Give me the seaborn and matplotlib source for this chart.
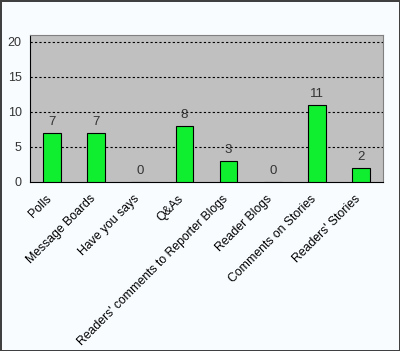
import matplotlib
matplotlib.use('Agg')
import matplotlib.pyplot as plt
import matplotlib.transforms as mtransforms
import seaborn as sns
import pandas as pd

categories = ['Polls', 'Message Boards', 'Have you says', 'Q&As',
              "Readers' comments to Reporter Blogs", 'Reader Blogs',
              'Comments on Stories', "Readers' Stories"]
counts = [7, 7, 0, 8, 3, 0, 11, 2]
yticks = [0, 5, 10, 15, 20]

df = pd.DataFrame({'category': categories, 'count': counts})

sns.set_style('white')
plt.rcParams['font.family'] = ['Liberation Sans', 'DejaVu Sans']

fig = plt.figure(figsize=(4.0, 3.51), dpi=100, facecolor='#f8fcff',
                 edgecolor='#404040', linewidth=2)
ax = fig.add_axes([30 / 400, 1 - 181.5 / 351, 353 / 400, 146.5 / 351])
ax.set_facecolor('#c0c0c0')

sns.barplot(data=df, x='category', y='count', color='#10ee30', saturation=1,
            edgecolor='black', linewidth=0.8, width=0.4, ax=ax, zorder=3)

ax.set_ylim(0, 21)
ax.set_xlim(-0.5, len(categories) - 0.5)
ax.set_yticks(yticks)
for y in yticks[1:]:
    ax.axhline(y, color='black', linestyle=(0, (2, 2)), linewidth=0.8, zorder=1)

for i, v in enumerate(counts):
    ax.text(i, v + 0.7, str(v), ha='center', va='bottom', fontsize=9.5,
            color='#333333', zorder=4)

ax.set_xlabel('')
ax.set_ylabel('')
ax.set_xticks([i - 0.5 for i in range(len(categories) + 1)], minor=True)
ax.tick_params(axis='x', which='major', length=0, pad=8)
ax.tick_params(axis='x', which='minor', length=4, width=0.8, color='black',
               direction='out')
ax.tick_params(axis='y', length=4, width=0.8, color='black', direction='out',
               labelsize=9, labelcolor='#333333', pad=2)
ax.set_xticks(range(len(categories)))
ax.set_xticklabels(categories, rotation=45, ha='right', va='top',
                   rotation_mode='anchor', fontsize=8.8, color='black')

# shift rotated labels a little to the left, like the original
offset = mtransforms.ScaledTranslation(-7 / 100, 0, fig.dpi_scale_trans)
for lab in ax.get_xticklabels():
    lab.set_transform(lab.get_transform() + offset)

for side in ['top', 'right']:
    ax.spines[side].set_color('#808080')
    ax.spines[side].set_linewidth(0.8)
ax.spines['left'].set_color('black')
ax.spines['bottom'].set_color('black')
ax.spines['left'].set_linewidth(0.8)
ax.spines['bottom'].set_linewidth(0.8)

fig.savefig('out.png', dpi=100, facecolor=fig.get_facecolor(),
            edgecolor=fig.get_edgecolor())
